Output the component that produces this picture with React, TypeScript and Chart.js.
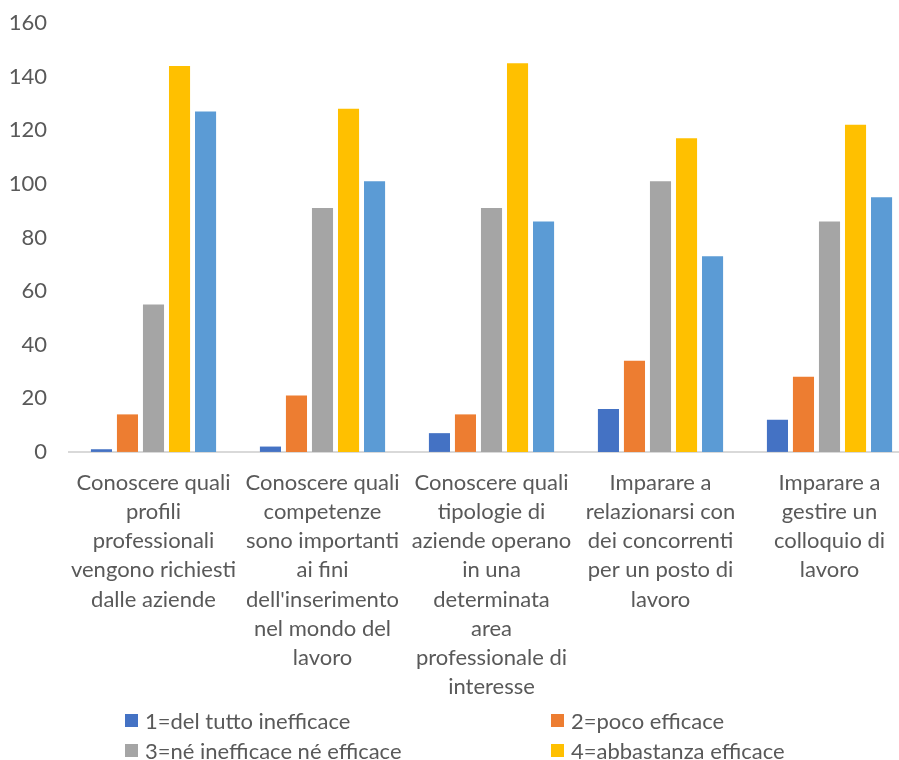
import React, { useEffect, useRef } from "react";
import { Chart, registerables } from "chart.js";

Chart.register(...registerables);

const categories: string[][] = [
  ["Conoscere quali", "profili", "professionali", "vengono richiesti", "dalle aziende"],
  ["Conoscere quali", "competenze", "sono importanti", "ai fini", "dell'inserimento", "nel mondo del", "lavoro"],
  ["Conoscere quali", "tipologie di", "aziende operano", "in una", "determinata", "area", "professionale di", "interesse"],
  ["Imparare a", "relazionarsi con", "dei concorrenti", "per un posto di", "lavoro"],
  ["Imparare a", "gestire un", "colloquio di", "lavoro"],
];

const seriesLabels = [
  "1=del tutto inefficace",
  "2=poco efficace",
  "3=né inefficace né efficace",
  "4=abbastanza efficace",
  "5=molto efficace",
];

const series1 = [1, 2, 7, 16, 12];
const series2 = [14, 21, 14, 34, 28];
const series3 = [55, 91, 91, 101, 86];
const series4 = [144, 128, 145, 117, 122];
const series5 = [127, 101, 86, 73, 95];

const seriesColors = ["#4472C4", "#ED7D31", "#A5A5A5", "#FFC000", "#5B9BD5"];

const yMin = 0;
const yMax = 160;
const yStep = 20;

const FONT = "Lato";
const TEXT = "#595959";

export default function App() {
  const ref = useRef<HTMLCanvasElement>(null);

  useEffect(() => {
    if (!ref.current) return;
    const all = [series1, series2, series3, series4, series5];
    const chart = new Chart(ref.current, {
      type: "bar",
      data: {
        labels: categories,
        datasets: all.map((d, i) => ({
          label: seriesLabels[i],
          data: d,
          backgroundColor: seriesColors[i],
          borderWidth: 0,
          categoryPercentage: 0.77,
          barPercentage: 0.81,
        })),
      },
      options: {
        animation: false,
        responsive: false,
        maintainAspectRatio: false,
        layout: { padding: { top: 23, right: 0, bottom: 4, left: 0 } },
        plugins: {
          legend: { display: false },
          tooltip: { enabled: false },
          title: { display: false },
        },
        scales: {
          x: {
            grid: { display: false, drawTicks: false },
            border: { display: true, color: "#d9d9d9", width: 2 },
            ticks: {
              autoSkip: false,
              maxRotation: 0,
              minRotation: 0,
              padding: 16,
              color: TEXT,
              font: { family: FONT, size: 22, lineHeight: 1.33 },
            },
          },
          y: {
            min: yMin,
            max: yMax,
            grid: { display: false, drawTicks: false },
            border: { display: false },
            ticks: {
              stepSize: yStep,
              padding: 22,
              color: TEXT,
              font: { family: FONT, size: 22 },
            },
            afterFit: (scale: any) => {
              scale.width = 69;
              scale.paddingTop = 0;
              scale.paddingBottom = 0;
            },
          },
        },
      },
    });
    return () => chart.destroy();
  }, []);

  return (
    <div
      style={{
        position: "absolute",
        left: 0,
        top: 0,
        width: 899,
        height: 760,
        overflow: "hidden",
        background: "#ffffff",
      }}
    >
      <canvas
        ref={ref}
        width={914}
        height={722}
        style={{ position: "absolute", left: 0, top: 0 }}
      />
      {seriesLabels.map((lab, i) => {
        const col = i % 2;
        const row = Math.floor(i / 2);
        const left = col === 0 ? 125 : 551;
        const cy = 720 + row * 30;
        return (
          <div
            key={lab}
            style={{
              position: "absolute",
              left,
              top: cy - 15,
              height: 30,
              display: "flex",
              alignItems: "center",
              whiteSpace: "nowrap",
              fontFamily: FONT,
              fontSize: 22,
              color: TEXT,
            }}
          >
            <span
              style={{
                display: "inline-block",
                width: 13,
                height: 13,
                background: seriesColors[i],
                marginRight: 7,
              }}
            />
            <span>{lab}</span>
          </div>
        );
      })}
    </div>
  );
}
